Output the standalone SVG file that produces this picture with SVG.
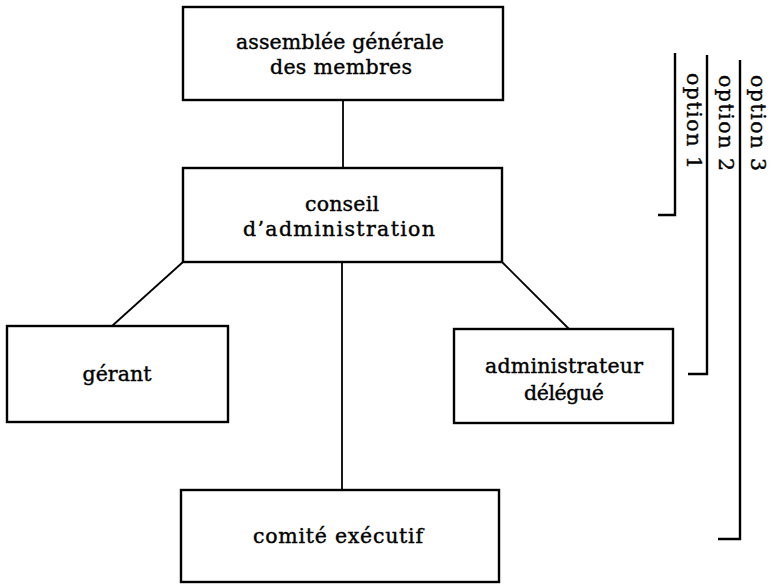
<svg xmlns="http://www.w3.org/2000/svg" width="771" height="584" viewBox="0 0 771 584">
<style>
.box{fill:#fff;stroke:#000;stroke-width:2.4}
.ln{stroke:#000;stroke-width:1.8;fill:none}
.br{stroke:#000;stroke-width:2.4;fill:none}
text{font-family:"DejaVu Serif","Liberation Serif",serif;font-size:20.5px;fill:#000;stroke:#000;stroke-width:0.4;text-anchor:middle}
</style>
<rect width="771" height="584" fill="#fff"/>
<g id="connectors">
<line class="ln" x1="343" y1="100" x2="343" y2="168"/>
<line class="ln" x1="183" y1="262" x2="112" y2="326"/>
<line class="ln" x1="502" y1="262" x2="569" y2="329"/>
<line class="ln" x1="342" y1="262" x2="342" y2="490"/>
</g>
<g id="assemblee">
<rect class="box" x="183" y="7" width="320" height="93"/>
<text x="340" y="49" textLength="208">assemblée générale</text>
<text x="341" y="74" textLength="142">des membres</text>
</g>
<g id="conseil">
<rect class="box" x="183" y="168" width="319" height="94"/>
<text x="342" y="211" textLength="74">conseil</text>
<text x="339" y="236" textLength="192">d’administration</text>
</g>
<g id="gerant">
<rect class="box" x="7" y="326" width="221" height="96"/>
<text x="117" y="381" textLength="69">gérant</text>
</g>
<g id="administrateur">
<rect class="box" x="454" y="329" width="219" height="94"/>
<text x="564" y="373" textLength="158">administrateur</text>
<text x="564" y="400" textLength="80">délégué</text>
</g>
<g id="comite">
<rect class="box" x="181" y="490" width="318" height="92"/>
<text x="338" y="543" textLength="170">comité exécutif</text>
</g>
<g id="options">
<path class="br" d="M658,215 H675 V53"/>
<path class="br" d="M688,374 H707 V55"/>
<path class="br" d="M718,539 H740 V60"/>
<text transform="translate(687,121) rotate(90)" textLength="96">option 1</text>
<text transform="translate(719,123) rotate(90)" textLength="96">option 2</text>
<text transform="translate(751,123) rotate(90)" textLength="96">option 3</text>
</g>
</svg>
